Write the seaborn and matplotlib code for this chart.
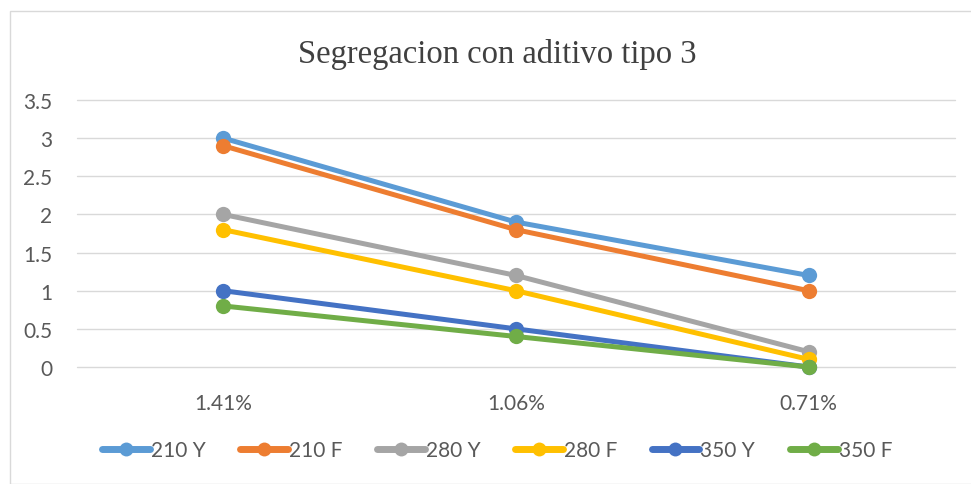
import matplotlib
matplotlib.use("Agg")
import matplotlib.pyplot as plt
import seaborn as sns
import pandas as pd
from matplotlib.patches import Rectangle

# Additive dosage categories (x axis)
dosages = ["1.41%", "1.06%", "0.71%"]

# Segregation per mix series
s_210_y = [3.0, 1.9, 1.2]
s_210_f = [2.9, 1.8, 1.0]
s_280_y = [2.0, 1.2, 0.2]
s_280_f = [1.8, 1.0, 0.1]
s_350_y = [1.0, 0.5, 0.0]
s_350_f = [0.8, 0.4, 0.0]

series_names = ["210 Y", "210 F", "280 Y", "280 F", "350 Y", "350 F"]
series_values = [s_210_y, s_210_f, s_280_y, s_280_f, s_350_y, s_350_f]
colors = ["#5B9BD5", "#ED7D31", "#A5A5A5", "#FFC000", "#4472C4", "#70AD47"]

y_ticks = [0, 0.5, 1, 1.5, 2, 2.5, 3, 3.5]
y_tick_labels = ["0", "0.5", "1", "1.5", "2", "2.5", "3", "3.5"]

rows = []
for name, vals in zip(series_names, series_values):
    for d, v in zip(dosages, vals):
        rows.append({"Dosificacion": d, "Segregacion": v, "Serie": name})
df = pd.DataFrame(rows)

sns.set_theme(style="white")
plt.rcParams["font.family"] = ["Lato", "DejaVu Sans"]

fig = plt.figure(figsize=(9.71, 4.85), dpi=100)
fig.patch.set_facecolor("white")

# Chart area frame
fig.patches.append(Rectangle((10 / 971, 0), 1.0, 1 - 12 / 485,
                             transform=fig.transFigure, fill=False,
                             edgecolor="#D9D9D9", linewidth=1.0, zorder=0))

ax = fig.add_axes([77 / 971, (485 - 368) / 485, (955 - 77) / 971, (368 - 101) / 485])

# Light horizontal gridlines behind the data
for t in y_ticks:
    ax.axhline(t, color="#D9D9D9", linewidth=1.0, zorder=0)

sns.lineplot(data=df, x="Dosificacion", y="Segregacion", hue="Serie",
             hue_order=series_names, palette=colors, marker="o",
             markersize=11, markeredgewidth=0, linewidth=3.6, sort=False,
             ax=ax, legend=True)

ax.set_xlim(-0.5, 2.5)
ax.set_ylim(0, 3.5)
ax.set_yticks(y_ticks)
ax.set_yticklabels(y_tick_labels)
ax.set_xlabel("")
ax.set_ylabel("")
for s in ax.spines.values():
    s.set_visible(False)
ax.tick_params(axis="both", length=0, labelsize=15, colors="#595959")
ax.tick_params(axis="y", pad=18)
ax.tick_params(axis="x", pad=19)
for ln in ax.lines:
    ln.set_clip_on(False)

fig.text(497 / 971, 1 - 55 / 485, "Segregacion con aditivo tipo 3",
         ha="center", va="center", fontsize=23.5, color="#404040",
         family=["Liberation Serif", "DejaVu Serif"])

handles, labels = ax.get_legend_handles_labels()
ax.legend_.remove()
for h in handles:
    h.set_linewidth(5)
    h.set_markersize(10)
leg = fig.legend(handles, labels, loc="center", bbox_to_anchor=(497 / 971, 1 - 451 / 485),
                 ncol=6, frameon=False, fontsize=15, handlelength=2.3,
                 handletextpad=0.05, columnspacing=1.65)
for t in leg.get_texts():
    t.set_color("#595959")

fig.savefig("out.png", dpi=100, facecolor="white")
